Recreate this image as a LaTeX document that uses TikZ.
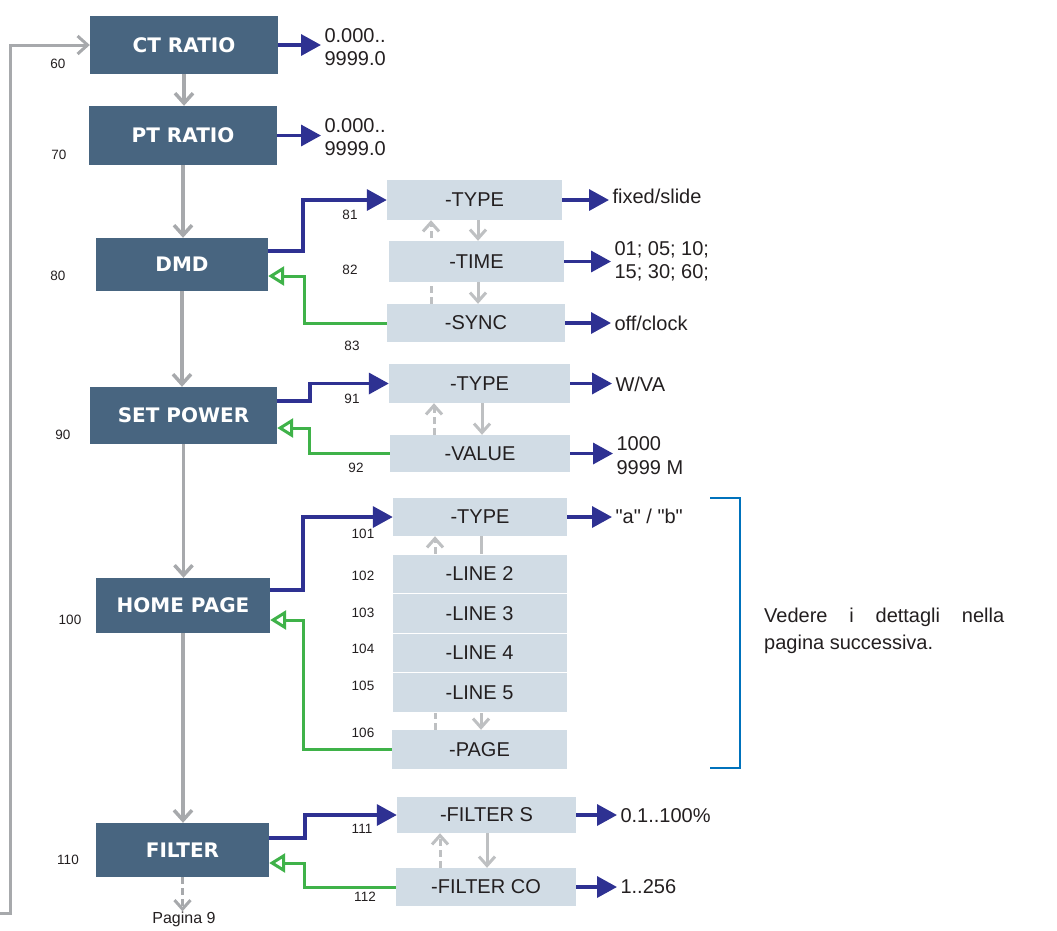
\documentclass[tikz,border=0pt]{standalone}
\usepackage{fontspec}
\setmainfont{Liberation Sans}
\newfontfamily\headfont{DejaVu Sans}
\newfontfamily\plainfont{Liberation Sans}[Ligatures=TeXOff]
\usetikzlibrary{calc, arrows.meta, backgrounds}

\definecolor{boxdark}{RGB}{72,101,128}
\definecolor{boxlight}{RGB}{209,220,229}
\definecolor{arrblue}{RGB}{46,49,146}
\definecolor{arrgreen}{RGB}{63,178,73}
\definecolor{arrgray}{RGB}{167,169,172}
\definecolor{arrgraylt}{RGB}{190,192,194}
\definecolor{bracketblue}{RGB}{0,114,188}
\definecolor{txtdark}{RGB}{35,31,32}

\tikzset{
  mainbox/.style={fill=boxdark, text=white, inner sep=0pt,
    font=\headfont\bfseries\fontsize{20}{24}\selectfont},
  subbox/.style={fill=boxlight, text=txtdark, inner sep=0pt,
    minimum width=175pt, minimum height=39pt, font=\fontsize{20}{24}\selectfont},
  numlbl/.style={text=txtdark, inner sep=0pt, font=\fontsize{13.5}{15}\selectfont},
  valtxt/.style={anchor=west, align=left, text=txtdark, font=\fontsize{20}{23}\selectfont},
  bluearr/.style={draw=arrblue, line width=3.5pt, -{Triangle[length=20pt,width=21pt]}},
  greenarr/.style={draw=arrgreen, line width=3pt, -{Triangle[open,length=16pt,width=19pt]}},
  grayarr/.style={draw=arrgray, line width=3.5pt, -{Straight Barb[length=10pt,width=18pt]}},
  subarr/.style={draw=arrgraylt, line width=3pt, -{Straight Barb[length=9pt,width=16pt]}},
  subdash/.style={subarr, dash pattern=on 7pt off 4pt},
}

\begin{document}
\begin{tikzpicture}[x=1pt, y=-1pt]
    \useasboundingbox (0,0) rectangle (1057,930);

    % main column
    \node[mainbox, minimum width=188pt, minimum height=58pt] (ct) at (184,45) {CT RATIO};
    \node[mainbox, minimum width=188pt, minimum height=59pt] (pt) at (183,135.5) {PT RATIO};
    \node[mainbox, minimum width=172pt, minimum height=53pt] (dmd) at (182,264.5) {DMD};
    \node[mainbox, minimum width=187pt, minimum height=57pt] (pow) at (183.5,415.5) {SET POWER};
    \node[mainbox, minimum width=174pt, minimum height=55pt] (home) at (183,605.5) {HOME PAGE};
    \node[mainbox, minimum width=173pt, minimum height=54pt] (filt) at (182.5,850) {FILTER};

    \node[numlbl] (n60) at (58,64) {60};
    \node[numlbl] (n70) at (59,155) {70};
    \node[numlbl] (n80) at (58,276) {80};
    \node[numlbl] (n90) at (63,435) {90};
    \node[numlbl] (n100) at (70,620) {100};
    \node[numlbl] (n110) at (68,860) {110};

    \draw[grayarr] (ct.south) -- (ct.south |- pt.north);
    \draw[grayarr] (pt.south) -- (pt.south |- dmd.north);
    \draw[grayarr] (dmd.south) -- (dmd.south |- pow.north);
    \draw[grayarr] (pow.south) -- (pow.south |- home.north);
    \draw[grayarr] (home.south) -- (home.south |- filt.north);

    \node[numlbl, font=\fontsize{16}{18}\selectfont] (pag) at (184,919) {Pagina 9};
    \draw[subdash, draw=arrgray] (filt.south) -- (filt.south |- pag.north);

    \coordinate (loopin) at (0,913);
    \draw[grayarr, line width=3pt] (loopin) -- ++(10,0) |- (ct.west);

    % ratios
    \node[valtxt] (ctval) at (321,47) {0.000..\\9999.0};
    \node[valtxt] (ptval) at (321,137) {0.000..\\9999.0};
    \draw[bluearr] (ct.east) -- (ct.east -| ctval.west);
    \draw[bluearr] (pt.east) -- (pt.east -| ptval.west);

    % DMD
    \node[subbox, minimum height=40pt] (dtype) at (474.5,200) {-TYPE};
    \node[subbox, minimum height=41pt] (dtime) at (476.5,261.5) {-TIME};
    \node[subbox, minimum width=178pt, minimum height=38pt] (dsync) at (476,323) {-SYNC};
    \node[numlbl] (n81) at (350,215) {81};
    \node[numlbl] (n82) at (350,270) {82};
    \node[numlbl] (n83) at (352,346) {83};

    \node[valtxt] (dtypev) at (609,196) {fixed/slide};
    \node[valtxt] (dtimev) at (611,261) {01; 05; 10;\\15; 30; 60;};
    \node[valtxt] (dsyncv) at (611,323) {off/clock};
    \draw[bluearr] (dtype.east) -- (dtype.east -| dtypev.west);
    \draw[bluearr] (dtime.east) -- (dtime.east -| dtimev.west);
    \draw[bluearr] (dsync.east) -- (dsync.east -| dsyncv.west);

    \draw[bluearr] ($(dmd.east)+(0,-13.5)$) -- ++(35,0) |- (dtype.west);
    \draw[greenarr] (dsync.west) -- ++(-82,0) |- ($(dmd.east)+(0,11.5)$);

    \coordinate (dxd) at (478,0);
    \coordinate (dxu) at (431,0);
    \draw[subarr] (dxd |- dtype.south) -- (dxd |- dtime.north);
    \draw[subarr] (dxd |- dtime.south) -- (dxd |- dsync.north);
    \begin{scope}[on background layer]
        \draw[subdash] (dxu |- dsync.north) -- (dxu |- dtype.south);
    \end{scope}

    % SET POWER
    \node[subbox, minimum width=181pt] (ptype) at (479.5,383.5) {-TYPE};
    \node[subbox, minimum width=180pt, minimum height=37pt] (pval) at (480,453.5) {-VALUE};
    \node[numlbl] (n91) at (352,399) {91};
    \node[numlbl] (n92) at (356,468) {92};

    \node[valtxt] (ptypev) at (612,384) {W/VA};
    \node[valtxt, font=\fontsize{20}{24}\selectfont] (pvalv) at (613,456) {1000\\9999 M};
    \draw[bluearr] (ptype.east) -- (ptype.east -| ptypev.west);
    \draw[bluearr] (pval.east) -- (pval.east -| pvalv.west);

    \draw[bluearr] ($(pow.east)+(0,-14.5)$) -- ++(33,0) |- (ptype.west);
    \draw[greenarr] (pval.west) -- ++(-80,0) |- ($(pow.east)+(0,12.5)$);

    \coordinate (pxd) at (482,0);
    \coordinate (pxu) at (434,0);
    \draw[subarr] (pxd |- ptype.south) -- (pxd |- pval.north);
    \draw[subdash] (pxu |- pval.north) -- (pxu |- ptype.south);

    % HOME PAGE
    \node[subbox, minimum width=174pt, minimum height=38pt] (htype) at (480,517) {-TYPE};
    \foreach \n/\yy in {2/573.75, 3/613.25, 4/652.75, 5/692.25}
        \node[subbox, minimum height=39.5pt, draw=white, line width=0.6pt] (hl\n) at (479.5,\yy) {-LINE \n};
    \node[subbox] (hpage) at (479.5,749.5) {-PAGE};
    \node[numlbl] (n101) at (363,534) {101};
    \node[numlbl] (n102) at (363,576) {102};
    \node[numlbl] (n103) at (363,613) {103};
    \node[numlbl] (n104) at (363,649) {104};
    \node[numlbl] (n105) at (363,686) {105};
    \node[numlbl] (n106) at (363,733) {106};

    \node[valtxt, font=\plainfont\fontsize{20}{23}\selectfont] (htypev) at (612,516) {"a" / "b"};
    \draw[bluearr] (htype.east) -- (htype.east -| htypev.west);

    \draw[bluearr] ($(home.east)+(0,-15.5)$) -- ++(33,0) |- (htype.west);
    \draw[greenarr] (hpage.west) -- ++(-88,0) |- ($(home.east)+(0,14.5)$);

    \coordinate (hxd) at (481,0);
    \coordinate (hxu) at (435,0);
    \begin{scope}[on background layer]
        \draw[subarr] (hxd |- htype.south) -- (hxd |- hpage.north);
        \draw[subdash] (hxu |- hpage.north) -- (hxu |- htype.south);
    \end{scope}

    \draw[bracketblue, line width=2.5pt] (710,498) -- (740,498) -- (740,768) -- (710,768);
    \node[valtxt, inner sep=0pt, text width=240pt, align=justify,
        font=\fontsize{20}{27}\selectfont] (note) at (764,631)
        {Vedere i dettagli nella\linebreak pagina successiva.};

    % FILTER
    \node[subbox, minimum width=179pt, minimum height=36pt] (fs) at (486.5,815) {-FILTER S};
    \node[subbox, minimum width=180pt, minimum height=38pt] (fco) at (486,887) {-FILTER CO};
    \node[numlbl] (n111) at (362,829) {111};
    \node[numlbl] (n112) at (365,897) {112};

    \node[valtxt] (fsv) at (617,816) {0.1..100\%};
    \node[valtxt] (fcov) at (617,887) {1..256};
    \draw[bluearr] (fs.east) -- (fs.east -| fsv.west);
    \draw[bluearr] (fco.east) -- (fco.east -| fcov.west);

    \draw[bluearr] ($(filt.east)+(0,-12)$) -- ++(36,0) |- (fs.west);
    \draw[greenarr] (fco.west) -- ++(-91,0) |- ($(filt.east)+(0,13)$);

    \coordinate (fxd) at (487,0);
    \coordinate (fxu) at (440,0);
    \draw[subarr] (fxd |- fs.south) -- (fxd |- fco.north);
    \draw[subdash] (fxu |- fco.north) -- (fxu |- fs.south);
\end{tikzpicture}
\end{document}
